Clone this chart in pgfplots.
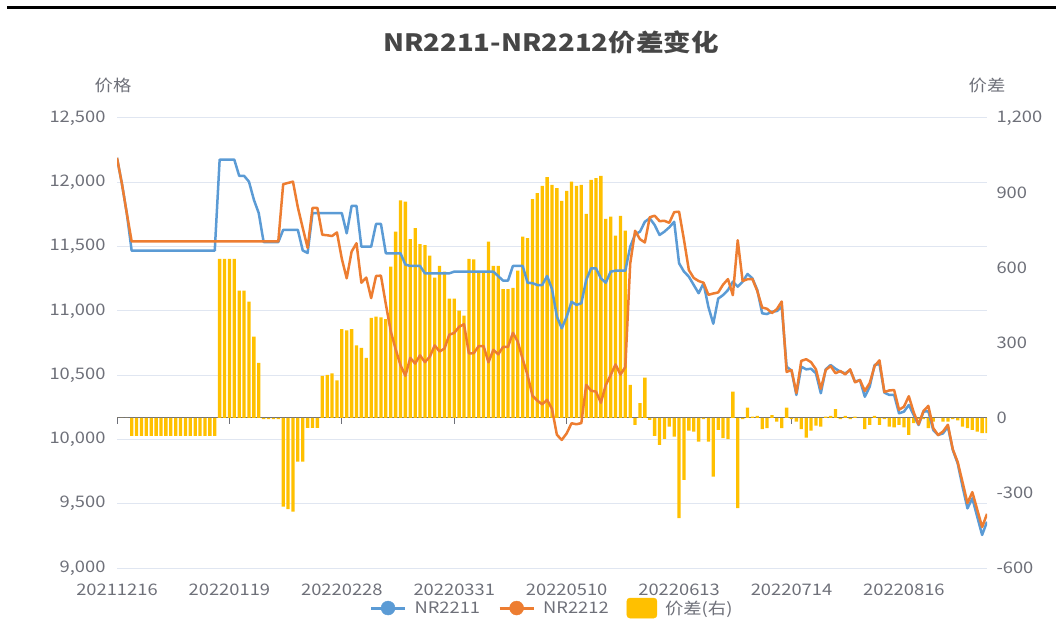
\documentclass[border=0pt]{standalone}
\usepackage{pgfplots}
\pgfplotsset{compat=1.18}
\usepackage{pgfplotstable}
\usepackage{fontspec}
\setmainfont[FakeStretch=1.15]{Noto Sans CJK SC}
\definecolor{c1}{HTML}{5B9BD5}
\definecolor{c2}{HTML}{ED7D31}
\definecolor{c3}{HTML}{FFC000}
\definecolor{gridc}{HTML}{E0E6F1}
\definecolor{axc}{HTML}{6E7079}
\definecolor{txtc}{HTML}{6E7079}
\definecolor{titc}{HTML}{464646}
\pgfplotstableread{
i b o d
0 12190 12190 0
1 11990 11990 0
2 11760 11760 0
3 11468 11540 -72
4 11468 11540 -72
5 11468 11540 -72
6 11468 11540 -72
7 11468 11540 -72
8 11468 11540 -72
9 11468 11540 -72
10 11468 11540 -72
11 11468 11540 -72
12 11468 11540 -72
13 11468 11540 -72
14 11468 11540 -72
15 11468 11540 -72
16 11468 11540 -72
17 11468 11540 -72
18 11468 11540 -72
19 11468 11540 -72
20 11468 11540 -72
21 12176 11540 636
22 12176 11540 636
23 12176 11540 636
24 12176 11540 636
25 12050 11541 509
26 12050 11541 509
27 12005 11540 465
28 11865 11540 325
29 11760 11540 220
30 11535 11540 -5
31 11535 11540 -5
32 11535 11540 -5
33 11535 11540 -5
34 11630 11985 -355
35 11630 11995 -365
36 11630 12005 -375
37 11630 11805 -175
38 11470 11645 -175
39 11450 11490 -40
40 11760 11800 -40
41 11760 11800 -40
42 11760 11592 168
43 11760 11588 172
44 11760 11582 178
45 11760 11610 150
46 11760 11405 355
47 11603 11253 350
48 11816 11461 355
49 11816 11526 290
50 11499 11219 280
51 11499 11259 240
52 11499 11099 400
53 11676 11271 405
54 11676 11274 402
55 11448 11053 395
56 11448 10843 605
57 11448 10703 745
58 11448 10578 870
59 11360 10495 865
60 11349 10634 715
61 11349 10590 759
62 11349 10654 695
63 11292 10601 691
64 11292 10643 649
65 11292 10731 561
66 11292 10684 608
67 11292 10707 585
68 11292 10815 477
69 11305 10828 477
70 11305 10876 429
71 11305 10896 409
72 11305 10669 636
73 11305 10671 634
74 11305 10726 579
75 11305 10726 579
76 11305 10600 705
77 11305 10697 608
78 11270 10662 608
79 11235 10720 515
80 11235 10720 515
81 11349 10829 520
82 11349 10760 589
83 11349 10624 725
84 11219 10500 719
85 11215 10340 875
86 11201 10302 899
87 11201 10273 928
88 11271 10308 963
89 11170 10238 932
90 10955 10036 919
91 10864 9996 868
92 10955 10047 908
93 11071 10126 945
94 11046 10118 928
95 11059 10127 932
96 11240 10424 816
97 11331 10379 952
98 11331 10372 959
99 11253 10285 968
100 11219 10423 796
101 11305 10500 805
102 11312 10583 729
103 11312 10504 808
104 11312 10563 749
105 11499 11367 132
106 11595 11623 -28
107 11616 11557 59
108 11693 11532 161
109 11720 11728 -8
110 11668 11740 -72
111 11590 11698 -108
112 11616 11700 -84
113 11650 11685 -35
114 11693 11768 -75
115 11370 11771 -401
116 11305 11553 -248
117 11266 11317 -51
118 11201 11256 -55
119 11137 11232 -95
120 11214 11219 -5
121 11030 11125 -95
122 10900 11135 -235
123 11095 11143 -48
124 11123 11204 -81
125 11162 11247 -85
126 11227 11122 105
127 11188 11549 -361
128 11227 11232 -5
129 11287 11246 41
130 11253 11248 5
131 11162 11154 8
132 10981 11026 -45
133 10975 11016 -41
134 10994 10983 11
135 10998 11013 -15
136 11032 11073 -41
137 10566 10525 41
138 10535 10540 -5
139 10346 10361 -15
140 10566 10611 -45
141 10545 10624 -79
142 10550 10601 -51
143 10514 10545 -31
144 10359 10394 -35
145 10545 10540 5
146 10579 10571 8
147 10550 10515 35
148 10527 10532 -5
149 10514 10506 8
150 10540 10545 -5
151 10449 10444 5
152 10462 10462 0
153 10332 10377 -45
154 10410 10438 -28
155 10579 10571 8
156 10587 10615 -28
157 10364 10369 -5
158 10346 10381 -35
159 10346 10384 -38
160 10203 10231 -28
161 10216 10254 -38
162 10268 10336 -68
163 10190 10211 -21
164 10112 10117 -5
165 10216 10221 -5
166 10220 10261 -41
167 10073 10088 -15
168 10034 10034 0
169 10047 10062 -15
170 10099 10114 -15
171 9918 9923 -5
172 9814 9824 -10
173 9632 9667 -35
174 9464 9505 -41
175 9542 9590 -48
176 9399 9454 -55
177 9257 9318 -61
178 9360 9421 -61
}\data
\newcommand{\tfont}{\fontsize{16}{18}\selectfont}
\begin{document}
\begin{tikzpicture}
\useasboundingbox (0,0) rectangle (1056bp,643bp);
\draw[line width=3bp] (7bp,635bp) -- (1056bp,635bp);
\node[font=\bfseries\fontsize{24}{28}\selectfont, text=titc] at (551bp,601bp) {NR2211-NR2212价差变化};
\node[font=\tfont, text=txtc] at (113bp,558bp) {价格};
\node[font=\tfont, text=txtc] at (987bp,558bp) {价差};
% grid + left axis + date labels
\begin{axis}[at={(117bp,75bp)}, anchor=south west, width=870bp, height=450bp, scale only axis,
  xmin=0, xmax=178, ymin=9000, ymax=12500, scaled y ticks=false, scaled x ticks=false,
  ytick={9000,9500,...,12500},
  yticklabels={{9,000},{9,500},{10,000},{10,500},{11,000},{11,500},{12,000},{12,500}},
  xtick={0,23,46,69,92,115,138,161},
  xticklabels={20211216,20220119,20220228,20220331,20220510,20220613,20220714,20220816},
  ymajorgrids, grid style={gridc, line width=1bp},
  axis line style={draw=none}, major tick length=0pt,
  tick label style={font=\tfont, text=txtc},
  yticklabel style={xshift=-8bp}, xticklabel style={yshift=-12bp}]
\end{axis}
% bars, right axis
\begin{axis}[at={(117bp,75bp)}, anchor=south west, width=870bp, height=450bp, scale only axis,
  xmin=0, xmax=178, ymin=-600, ymax=1200, scaled y ticks=false,
  axis y line*=right, axis x line*=middle,
  y axis line style={draw=none}, x axis line style={axc, line width=1bp},
  ytick={-600,-300,...,1200}, yticklabels={-600,-300,0,300,600,900,{1,200}},
  y tick style={draw=none},
  xtick={0,23,46,69,92,115,138,161}, xticklabels={},
  xtick align=center, major tick length=6bp,
  x tick style={axc, line width=1bp, yshift=-3bp},
  tick label style={font=\tfont, text=txtc},
  yticklabel style={xshift=6bp}]
\addplot[ybar, bar width=3.3bp, fill=c3, draw=none] table[x=i, y=d] {\data};
\end{axis}
% lines
\begin{axis}[at={(117bp,75bp)}, anchor=south west, width=870bp, height=450bp, scale only axis,
  xmin=0, xmax=178, ymin=9000, ymax=12500, hide axis,
  legend style={at={(0.5,-0.089)}, anchor=center, draw=none, fill=none, font=\tfont, text=txtc,
    legend columns=3,
    /tikz/every odd column/.append style={column sep=6bp},
    /tikz/every even column/.append style={column sep=16bp}},
  legend cell align=left]
\addlegendimage{legend image code/.code={\draw[c1, line width=3bp] (0bp,0bp) -- (34bp,0bp); \fill[c1] (17bp,0bp) circle (7bp);}}
\addlegendentry{NR2211}
\addlegendimage{legend image code/.code={\draw[c2, line width=3bp] (0bp,0bp) -- (34bp,0bp); \fill[c2] (17bp,0bp) circle (7bp);}}
\addlegendentry{NR2212}
\addlegendimage{legend image code/.code={\fill[c3, rounded corners=3bp] (0bp,-10bp) rectangle (30bp,10bp);}}
\addlegendentry{价差(右)}
\addplot[c1, line width=2.5bp, line join=round, forget plot] table[x=i, y=b] {\data};
\addplot[c2, line width=2.5bp, line join=round, forget plot] table[x=i, y=o] {\data};
\end{axis}
\end{tikzpicture}
\end{document}
